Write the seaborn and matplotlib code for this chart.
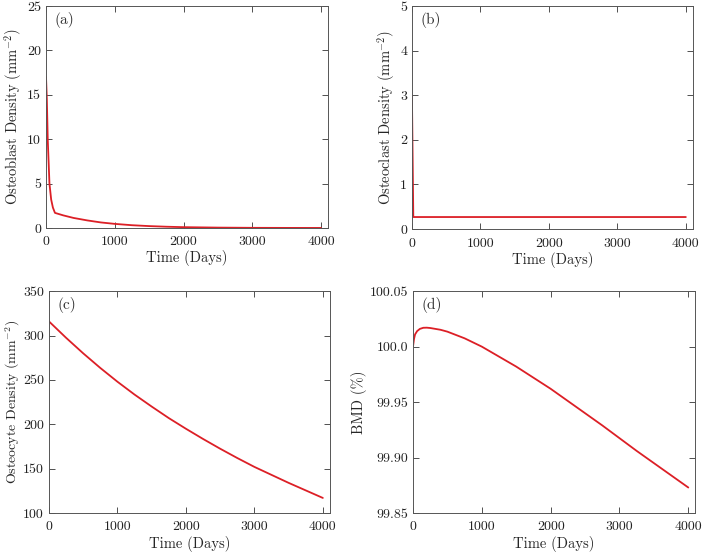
import numpy as np
import pandas as pd
import matplotlib
matplotlib.use("Agg")
import matplotlib.pyplot as plt
import seaborn as sns

# ---- data ----
t_ob = [0, 12, 25, 50, 75, 100, 130, 250, 400, 600, 800, 1000, 1250, 1500, 1750, 2000, 2500, 3000, 3500, 4000]
osteoblast = [17.0, 14.5, 10.0, 5.0, 3.2, 2.3, 1.7, 1.42, 1.13, 0.85, 0.62, 0.46, 0.31, 0.21, 0.14, 0.09, 0.04, 0.015, 0.006, 0.002]

t_oc = [0, 20, 1000, 2000, 3000, 4000]
osteoclast = [3.0, 0.27, 0.27, 0.27, 0.27, 0.27]

t_cy = [0, 250, 500, 750, 1000, 1250, 1500, 1750, 2000, 2250, 2500, 2750, 3000, 3250, 3500, 3750, 4000]
osteocyte = [316, 297.5, 280, 263.5, 248, 233.5, 220, 207, 195, 183.5, 172.5, 162, 152, 143, 134, 125.5, 117]

t_bmd = [0, 15, 30, 60, 100, 150, 200, 250, 400, 500, 750, 1000, 1250, 1500, 1750, 2000,
         2250, 2500, 2750, 3000, 3250, 3500, 3750, 4000]
bmd = [100.0, 100.007, 100.011, 100.014, 100.016, 100.017, 100.0171, 100.0168, 100.0152, 100.0135,
       100.0075, 100.0, 99.991, 99.982, 99.972, 99.962, 99.951, 99.940, 99.929, 99.9175,
       99.906, 99.895, 99.884, 99.873]

x_ticks = [0, 1000, 2000, 3000, 4000]
x_ticklabels = ["0", "1000", "2000", "3000", "4000"]
yt_a = [0, 5, 10, 15, 20, 25]
yt_b = [0, 1, 2, 3, 4, 5]
yt_c = [100, 150, 200, 250, 300, 350]
yt_d = [99.85, 99.90, 99.95, 100.0, 100.05]
ytl_d = ["99.85", "99.90", "99.95", "100.0", "100.05"]

panels = ["(a)", "(b)", "(c)", "(d)"]
ylabels = [r"Osteoblast Density (mm$^{-2}$)", r"Osteoclast Density (mm$^{-2}$)",
           r"Osteocyte Density (mm$^{-2}$)", "BMD (%)"]
xlabel = "Time (Days)"

sns.set_style("ticks")
plt.rcParams["font.family"] = ["cmr10", "DejaVu Serif"]
plt.rcParams["mathtext.fontset"] = "cm"
plt.rcParams["axes.formatter.use_mathtext"] = True
plt.rcParams["axes.unicode_minus"] = False

fig = plt.figure(figsize=(7.09, 5.56), dpi=100)
positions = [
    [0.0649, 0.590, 0.3977, 0.399],
    [0.581, 0.588, 0.396, 0.401],
    [0.069, 0.0773, 0.396, 0.399],
    [0.5825, 0.0773, 0.398, 0.399],
]
series = [
    (t_ob, osteoblast, yt_a, [str(v) for v in yt_a]),
    (t_oc, osteoclast, yt_b, [str(v) for v in yt_b]),
    (t_cy, osteocyte, yt_c, [str(v) for v in yt_c]),
    (t_bmd, bmd, yt_d, ytl_d),
]
red = "#dc1f26"
for i, (pos, (tx, ty, yt, ytl)) in enumerate(zip(positions, series)):
    ax = fig.add_axes(pos)
    df = pd.DataFrame({"t": tx, "y": ty})
    sns.lineplot(data=df, x="t", y="y", ax=ax, color=red, lw=1.3)
    ax.set_xlim(0, 4100)
    ax.set_ylim(yt[0], yt[-1])
    ax.set_xticks(x_ticks)
    ax.set_xticklabels(x_ticklabels)
    ax.set_yticks(yt)
    ax.set_yticklabels(ytl)
    ax.set_xlabel(xlabel, fontsize=10.5, labelpad=1.5)
    if i == 2:
        ax.set_ylabel(ylabels[i], fontsize=10)
        ax.yaxis.set_label_coords(-0.097, 0.5)
    else:
        ax.set_ylabel(ylabels[i], fontsize=10.5, labelpad=2)
    ax.tick_params(direction="in", top=True, right=True, length=4, width=0.6,
                   labelsize=10, colors="#333333", labelcolor="#222222")
    ax.tick_params(axis="x", pad=6)
    ax.tick_params(axis="y", pad=3.5)
    for s in ax.spines.values():
        s.set_visible(True)
        s.set_color("#555555")
        s.set_linewidth(0.7)
    ax.text(0.03, 0.975, panels[i], transform=ax.transAxes, ha="left", va="top",
            fontsize=11, color="#333333")

fig.savefig("out.png", dpi=100)
